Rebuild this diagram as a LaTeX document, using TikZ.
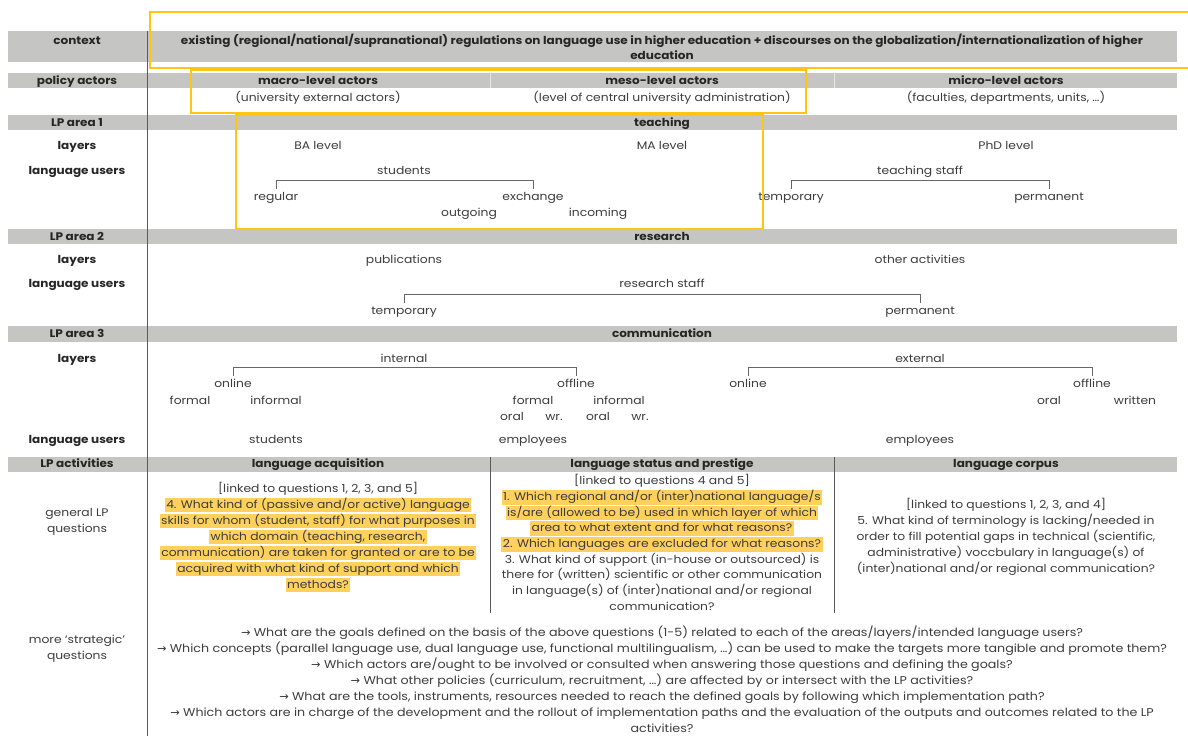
\documentclass[tikz,border=0pt]{standalone}
\usepackage{fontspec}
\setmainfont{Poppins}[FakeStretch=1.12]
\newfontfamily\hdrfont{Poppins}[FakeStretch=1.095]
\newfontfamily\arrowfont{DejaVu Sans}
\usetikzlibrary{positioning}
\definecolor{lpBand}{HTML}{C5C5C3}
\definecolor{lpGold}{HTML}{FFC414}
\definecolor{lpMark}{HTML}{FFD15C}
\definecolor{lpText}{HTML}{3C3C3C}
\definecolor{lpRule}{HTML}{5A5A5A}
\newcommand{\goal}{{\arrowfont →}\ }
\tikzset{
  lbl/.style={font=\fontsize{11}{16}\selectfont, text=lpText, inner sep=0pt,
    text height=8.8pt, text depth=2.6pt},
  hdr/.style={lbl, font=\fontsize{11}{16}\selectfont\hdrfont\bfseries, text=black!85},
  hlline/.style={lbl, fill=lpMark, inner xsep=1.5pt, inner ysep=1.6pt},
  strat/.style={lbl, font=\fontsize{11.3}{16}\selectfont},
  band/.style={fill=lpBand},
  bracket/.style={draw=gray!80!black, line width=0.7pt},
  focus/.style={draw=lpGold, line width=1.6pt},
  divider/.style={draw=lpRule, line width=0.6pt},
}
\begin{document}
\begin{tikzpicture}[x=1pt, y=-1pt]
  \useasboundingbox (0,0) rectangle (1188,736);
  % grey header bands
  \fill[band] (8,31) rectangle (1177,62);
  \fill[band] (8,73) rectangle (1177,88);
  \fill[band] (8,115) rectangle (1177,130);
  \fill[band] (8,229) rectangle (1177,244);
  \fill[band] (8,326) rectangle (1177,342);
  \fill[band] (8,457) rectangle (1177,472);
  \draw[white!60!lpBand, line width=1pt] (490,73) -- (490,88) (834,73) -- (834,88);
  % column rules
  \draw[divider] (147,31) -- (147,736);
  \draw[divider] (490,457) -- (490,613);
  \draw[divider] (834,457) -- (834,613);

  % left column
  \node[hdr] (ctx) at (77,41) {context};
  \node[hdr] (actors) at (77,81) {policy actors};
  \node[hdr] (area1) at (77,123) {LP area 1};
  \node[hdr] (lay1) at (77,146) {layers};
  \node[hdr] (users1) at (77,171) {language users};
  \node[hdr] (area2) at (77,237) {LP area 2};
  \node[hdr] (lay2) at (77,260) {layers};
  \node[hdr] (users2) at (77,284) {language users};
  \node[hdr] (area3) at (77,334) {LP area 3};
  \node[hdr] (lay3) at (77,359) {layers};
  \node[hdr] (users3) at (77,440) {language users};
  \node[hdr] (acts) at (77,464) {LP activities};
  \node[lbl] (genq) at (77,513) {general LP};
  \node[lbl] (genqB) at (77,529) {questions};
  \node[lbl] (strq) at (77,640) {more `strategic'};
  \node[lbl] (strqB) at (77,656) {questions};

  % context and actors
  \node[hdr] (ctxA) at (662,41) {existing (regional/national/supranational) regulations on language use in higher education + discourses on the globalization/internationalization of higher};
  \node[hdr] (ctxB) at (662,56) {education};
  \node[hdr] (macro) at (318,81) {macro-level actors};
  \node[lbl] (macroSub) at (318,98) {(university external actors)};
  \node[hdr] (meso) at (662,81) {meso-level actors};
  \node[lbl] (mesoSub) at (662,98) {(level of central university administration)};
  \node[hdr] (micro) at (1006,81) {micro-level actors};
  \node[lbl] (microSub) at (1006,98) {(faculties, departments, units, …)};

  % teaching
  \node[hdr] (teach) at (662,123) {teaching};
  \node[lbl] (ba) at (318,146) {BA level};
  \node[lbl] (ma) at (662,146) {MA level};
  \node[lbl] (phd) at (1006,146) {PhD level};
  \node[lbl] (stud) at (404,171) {students};
  \node[lbl] (regular) at (276,197) {regular};
  \node[lbl] (exchange) at (533,197) {exchange};
  \node[lbl] (outgoing) at (469,213) {outgoing};
  \node[lbl] (incoming) at (598,213) {incoming};
  \node[lbl] (tstaff) at (920,171) {teaching staff};
  \node[lbl] (ttemp) at (791,197) {temporary};
  \node[lbl] (tperm) at (1049,197) {permanent};
  \draw[bracket] ([yshift=2pt]regular.north) -- ++(0,-9) -| ([yshift=2pt]exchange.north);
  \draw[bracket] ([yshift=2pt]ttemp.north) -- ++(0,-9) -| ([yshift=2pt]tperm.north);

  % research
  \node[hdr] (res) at (662,237) {research};
  \node[lbl] (pub) at (404,260) {publications};
  \node[lbl] (other) at (920,260) {other activities};
  \node[lbl] (rstaff) at (662,284) {research staff};
  \node[lbl] (rtemp) at (404,311) {temporary};
  \node[lbl] (rperm) at (920,311) {permanent};
  \draw[bracket] ([yshift=2pt]rtemp.north) -- ++(0,-9) -| ([yshift=2pt]rperm.north);

  % communication
  \node[hdr] (comm) at (662,334) {communication};
  \node[lbl] (internal) at (404,359) {internal};
  \node[lbl] (inOn) at (233,384) {online};
  \node[lbl] (inOff) at (576,384) {offline};
  \node[lbl] (inOnF) at (190,401) {formal};
  \node[lbl] (inOnI) at (276,401) {informal};
  \node[lbl] (inOffF) at (533,401) {formal};
  \node[lbl] (inOffI) at (619,401) {informal};
  \node[lbl] (oralA) at (512,417) {oral};
  \node[lbl] (wrA) at (554,417) {wr.};
  \node[lbl] (oralB) at (598,417) {oral};
  \node[lbl] (wrB) at (640,417) {wr.};
  \node[lbl] (external) at (920,359) {external};
  \node[lbl] (exOn) at (748,384) {online};
  \node[lbl] (exOff) at (1092,384) {offline};
  \node[lbl] (exOral) at (1049,401) {oral};
  \node[lbl] (exWr) at (1135,401) {written};
  \draw[bracket] ([yshift=2pt]inOn.north) -- ++(0,-9) -| ([yshift=2pt]inOff.north);
  \draw[bracket] ([yshift=2pt]exOn.north) -- ++(0,-9) -| ([yshift=2pt]exOff.north);
  \node[lbl] (cStud) at (276,440) {students};
  \node[lbl] (cEmp) at (533,440) {employees};
  \node[lbl] (cEmpB) at (920,440) {employees};

  % LP activities
  \node[hdr] (acq) at (318,464) {language acquisition};
  \node[hdr] (status) at (662,464) {language status and prestige};
  \node[hdr] (corpus) at (1006,464) {language corpus};

  \node[lbl] (acqLink) at (318,489) {[linked to questions 1, 2, 3, and 5]};
  \foreach \ln [count=\i] in {{4. What kind of (passive and/or active) language},
      {skills for whom (student, staff) for what purposes in},
      {which domain (teaching, research,},
      {communication) are taken for granted or are to be},
      {acquired with what kind of support and which},{methods?}}
    \node[hlline] (acqQ\i) at (318,{489+16*\i}) {\ln};

  \node[lbl] (statLink) at (662,481.5) {[linked to questions 4 and 5]};
  \foreach \ln [count=\i] in {{1. Which regional and/or (inter)national language/s},
      {is/are (allowed to be) used in which layer of which},
      {area to what extent and for what reasons?},
      {2. Which languages are excluded for what reasons?}}
    \node[hlline] (statQ\i) at (662,{481.5+15.7*\i}) {\ln};
  \foreach \ln [count=\i] in {{3. What kind of support (in-house or outsourced) is},
      {there for (written) scientific or other communication},
      {in language(s) of (inter)national and/or regional},{communication?}}
    \node[lbl] (statR\i) at (662,{544.3+15.7*\i}) {\ln};

  \node[lbl] (corpLink) at (1006,505) {[linked to questions 1, 2, 3, and 4]};
  \foreach \ln [count=\i] in {{5. What kind of terminology is lacking/needed in},
      {order to fill potential gaps in technical (scientific,},
      {administrative) voccbulary in language(s) of},
      {(inter)national and/or regional communication?}}
    \node[lbl] (corpQ\i) at (1006,{505+16*\i}) {\ln};

  % strategic questions
  \foreach \ln [count=\i] in {{\goal What are the goals defined on the basis of the above questions (1-5) related to each of the areas/layers/intended language users?},
      {\goal Which concepts (parallel language use, dual language use, functional multilingualism, …) can be used to make the targets more tangible and promote them?},
      {\goal Which actors are/ought to be involved or consulted when answering those questions and defining the goals?},
      {\goal What other policies (curriculum, recruitment, …) are affected by or intersect with the LP activities?},
      {\goal What are the tools, instruments, resources needed to reach the defined goals by following which implementation path?},
      {\goal Which actors are in charge of the development and the rollout of implementation paths and the evaluation of the outputs and outcomes related to the LP},
      {activities?}}
    \node[strat] (strat\i) at (662,{617+16*\i}) {\ln};

  % highlighted focus frames
  \draw[focus] (1192,12) -- (150,12) -- (150,68) -- (1192,68);
  \draw[focus] (191,70) rectangle (806,113);
  \draw[focus] (236,115) rectangle (763,229);
\end{tikzpicture}
\end{document}
